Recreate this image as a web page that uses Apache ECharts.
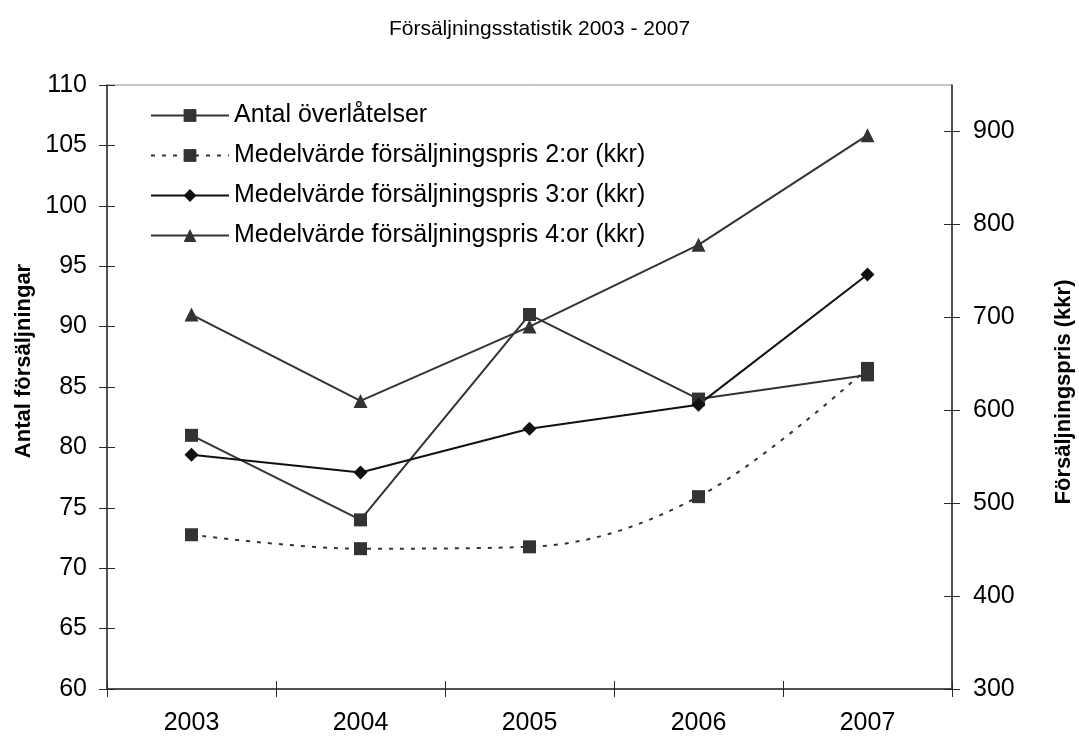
<!DOCTYPE html>
<html>
<head>
<meta charset="utf-8">
<title>Försäljningsstatistik 2003 - 2007</title>
<script src="https://cdn.jsdelivr.net/npm/echarts@6/dist/echarts.min.js"></script>
<style>
  html, body { margin: 0; padding: 0; background: #fff; }
  #chart { width: 1079px; height: 739px; }
</style>
</head>
<body>
<div id="chart"></div>
<script>
// Years on the category axis
const years = ['2003', '2004', '2005', '2006', '2007'];

// Number of sales (left axis)
const antalOverlatelser = [81, 74, 91, 84, 86];

// Average sale price per apartment size, kkr (right axis)
const medel2or = [466, 451, 453, 507, 645];
const medel3or = [552, 533, 580, 606, 746];
const medel4or = [703, 610, 690, 778, 896];

// Axis tick values
const leftTicks = [60, 65, 70, 75, 80, 85, 90, 95, 100, 105, 110];
const rightTicks = [300, 400, 500, 600, 700, 800, 900];

const seriesNames = [
  'Antal överlåtelser',
  'Medelvärde försäljningspris 2:or (kkr)',
  'Medelvärde försäljningspris 3:or (kkr)',
  'Medelvärde försäljningspris 4:or (kkr)'
];

const FONT = '"Liberation Sans", Arial, Helvetica, sans-serif';
const AXIS_COLOR = '#2a2a2a';
const TICK_LEN = 8;

const chart = echarts.init(document.getElementById('chart'), null, { renderer: 'canvas' });

const labelStyle = { color: '#000', fontFamily: FONT, fontSize: 25 };

chart.setOption({
  backgroundColor: '#fff',
  animation: false,
  title: {
    text: 'Försäljningsstatistik 2003 - 2007',
    left: 'center',
    top: 14,
    textStyle: { color: '#000', fontFamily: FONT, fontSize: 21, fontWeight: 'normal' }
  },
  grid: {
    left: 107, right: 127, top: 85, bottom: 50,
    show: true, borderColor: '#909090', borderWidth: 1, backgroundColor: 'transparent'
  },
  legend: {
    orient: 'vertical',
    left: 150,
    top: 103,
    padding: 0,
    itemWidth: 78,
    itemHeight: 16,
    itemGap: 15,
    textStyle: { color: '#000', fontFamily: FONT, fontSize: 25 },
    data: seriesNames
  },
  xAxis: [
    {
      type: 'category',
      data: years,
      boundaryGap: true,
      position: 'bottom',
      axisLine: { lineStyle: { color: AXIS_COLOR, width: 1.5 } },
      axisTick: { show: true, length: TICK_LEN, lineStyle: { color: AXIS_COLOR } },
      axisLabel: Object.assign({ margin: 22 }, labelStyle),
      splitLine: { show: false }
    },
    {
      // inner half of the crossing category ticks
      type: 'category',
      data: years,
      boundaryGap: true,
      position: 'bottom',
      axisLine: { show: false },
      axisTick: { show: true, inside: true, length: TICK_LEN, lineStyle: { color: AXIS_COLOR } },
      axisLabel: { show: false },
      splitLine: { show: false }
    }
  ],
  yAxis: [
    {
      type: 'value',
      position: 'left',
      min: leftTicks[0],
      max: leftTicks[leftTicks.length - 1],
      interval: 5,
      axisLine: { show: true, lineStyle: { color: AXIS_COLOR, width: 1.5 } },
      axisTick: { show: true, length: TICK_LEN, lineStyle: { color: AXIS_COLOR } },
      axisLabel: Object.assign({ margin: 20 }, labelStyle),
      splitLine: { show: false }
    },
    {
      type: 'value',
      position: 'right',
      min: 300,
      max: 950,
      interval: 100,
      axisLine: { show: true, lineStyle: { color: AXIS_COLOR, width: 1.5 } },
      axisTick: { show: true, length: TICK_LEN, customValues: rightTicks, lineStyle: { color: AXIS_COLOR } },
      axisLabel: Object.assign({ margin: 21, customValues: rightTicks }, labelStyle),
      splitLine: { show: false }
    },
    {
      // inner half of the crossing ticks on the left axis
      type: 'value',
      position: 'left',
      min: leftTicks[0],
      max: leftTicks[leftTicks.length - 1],
      interval: 5,
      axisLine: { show: false },
      axisTick: { show: true, inside: true, length: TICK_LEN, lineStyle: { color: AXIS_COLOR } },
      axisLabel: { show: false },
      splitLine: { show: false }
    },
    {
      // inner half of the crossing ticks on the right axis
      type: 'value',
      position: 'right',
      min: 300,
      max: 950,
      interval: 100,
      axisLine: { show: false },
      axisTick: { show: true, inside: true, length: TICK_LEN, customValues: rightTicks, lineStyle: { color: AXIS_COLOR } },
      axisLabel: { show: false },
      splitLine: { show: false }
    }
  ],
  graphic: [
    {
      type: 'text',
      x: 24, y: 361,
      rotation: Math.PI / 2,
      style: {
        text: 'Antal försäljningar',
        font: 'bold 22px ' + FONT,
        fill: '#000',
        textAlign: 'center',
        textVerticalAlign: 'middle'
      }
    },
    {
      type: 'text',
      x: 1064, y: 392,
      rotation: Math.PI / 2,
      style: {
        text: 'Försäljningspris (kkr)',
        font: 'bold 22px ' + FONT,
        fill: '#000',
        textAlign: 'center',
        textVerticalAlign: 'middle'
      }
    }
  ],
  series: [
    {
      name: seriesNames[0],
      type: 'line',
      xAxisIndex: 0,
      yAxisIndex: 0,
      data: antalOverlatelser,
      symbol: 'rect',
      symbolSize: 13,
      lineStyle: { color: '#333', width: 2 },
      itemStyle: { color: '#333', borderWidth: 0 }
    },
    {
      name: seriesNames[1],
      type: 'line',
      xAxisIndex: 0,
      yAxisIndex: 1,
      data: medel2or,
      smooth: 0.35,
      symbol: 'rect',
      symbolSize: 13,
      lineStyle: { color: '#333', width: 2, type: [4, 7] },
      itemStyle: { color: '#333', borderWidth: 0 }
    },
    {
      name: seriesNames[2],
      type: 'line',
      xAxisIndex: 0,
      yAxisIndex: 1,
      data: medel3or,
      symbol: 'diamond',
      symbolSize: 14,
      lineStyle: { color: '#111', width: 2 },
      itemStyle: { color: '#111', borderWidth: 0 }
    },
    {
      name: seriesNames[3],
      type: 'line',
      xAxisIndex: 0,
      yAxisIndex: 1,
      data: medel4or,
      symbol: 'triangle',
      symbolSize: 14,
      lineStyle: { color: '#333', width: 2 },
      itemStyle: { color: '#333', borderWidth: 0 }
    }
  ]
});
</script>
</body>
</html>
